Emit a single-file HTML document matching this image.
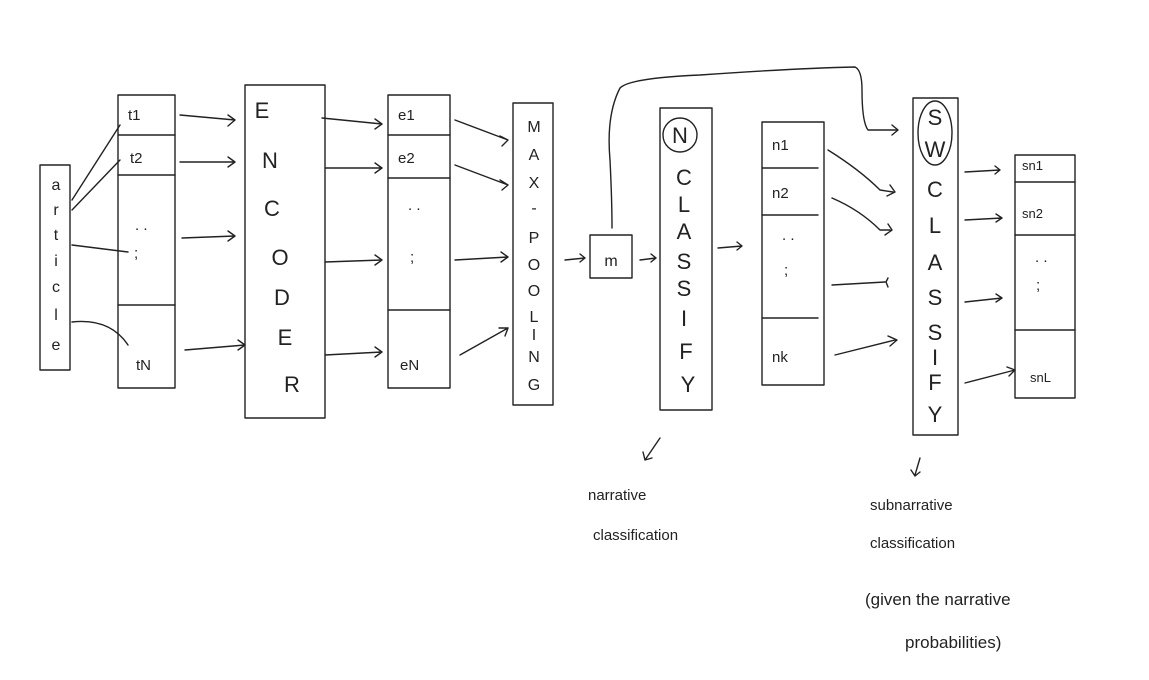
<!DOCTYPE html>
<html><head><meta charset="utf-8"><style>
html,body{margin:0;padding:0;background:#fff;}
svg{display:block}
text{font-family:"Liberation Sans",sans-serif;fill:#222;}
.l{stroke:#222;stroke-width:1.4;fill:none;stroke-linecap:round;stroke-linejoin:round}
.c{font-size:22px;text-anchor:middle}
.s{font-size:16px;text-anchor:middle}
.n{font-size:15px}
</style></head><body>
<svg width="1149" height="680" viewBox="0 0 1149 680" xmlns="http://www.w3.org/2000/svg">
<g class="l">
<rect x="40" y="165" width="30" height="205"/>
<rect x="118" y="95" width="57" height="293"/>
<line x1="118" y1="135" x2="175" y2="135"/><line x1="118" y1="175" x2="175" y2="175"/><line x1="118" y1="305" x2="175" y2="305"/>
<path d="M72 200 L120 125"/><path d="M72 210 L120 160"/><path d="M72 245 L128 252"/><path d="M72 322 Q110 318 128 345"/>
<rect x="245" y="85" width="80" height="333"/>
<rect x="388" y="95" width="62" height="293"/>
<line x1="388" y1="135" x2="450" y2="135"/><line x1="388" y1="178" x2="450" y2="178"/><line x1="388" y1="310" x2="450" y2="310"/>
<rect x="513" y="103" width="40" height="302"/>
<rect x="590" y="235" width="42" height="43"/>
<rect x="660" y="108" width="52" height="302"/>
<circle cx="680" cy="135" r="17"/>
<rect x="762" y="122" width="62" height="263"/>
<line x1="762" y1="168" x2="818" y2="168"/><line x1="762" y1="215" x2="818" y2="215"/><line x1="762" y1="318" x2="818" y2="318"/>
<rect x="913" y="98" width="45" height="337"/>
<ellipse cx="935" cy="133" rx="17" ry="32"/>
<rect x="1015" y="155" width="60" height="243"/>
<line x1="1015" y1="182" x2="1075" y2="182"/><line x1="1015" y1="235" x2="1075" y2="235"/><line x1="1015" y1="330" x2="1075" y2="330"/>
<path d="M180 115 L235 120 M228 115 L235 120 L228 126"/>
<path d="M180 162 L235 162 M228 157 L235 162 L228 167"/>
<path d="M182 238 L235 236 M228 231 L235 236 L228 241"/>
<path d="M185 350 L245 345 M238 340 L245 345 L238 350"/>
<path d="M322 118 L382 124 M375 119 L382 124 L375 129"/>
<path d="M325 168 L382 168 M375 163 L382 168 L375 173"/>
<path d="M325 262 L382 260 M375 255 L382 260 L375 265"/>
<path d="M325 355 L382 352 M375 347 L382 352 L375 357"/>
<path d="M455 120 L508 140 M500 136 L508 140 L502 146"/>
<path d="M455 165 L508 185 M500 180 L508 185 L502 190"/>
<path d="M455 260 L508 257 M501 252 L508 257 L501 262"/>
<path d="M460 355 L508 328 M499 328 L508 328 L505 336"/>
<path d="M565 260 L585 258 M580 254 L585 258 L580 262"/>
<path d="M640 260 L656 258 M651 254 L656 258 L651 262"/>
<path d="M718 248 L742 246 M737 242 L742 246 L737 250"/>
<path d="M612 228 Q612 200 610 160 Q606 115 620 88 Q630 78 700 75 Q800 68 855 67 Q862 70 862 90 Q862 122 868 130 L896 130 M892 125 L898 130 L892 135"/>
<path d="M828 150 Q860 170 880 190 L893 192 M890 185 L895 192 L887 196"/>
<path d="M832 198 Q860 210 880 230 L890 230 M888 224 L892 230 L885 235"/>
<path d="M832 285 L885 282 M888 278 L886 282 L888 287"/>
<path d="M835 355 L895 340 M888 336 L897 340 L890 346"/>
<path d="M965 172 L1000 170 M995 166 L1000 170 L995 174"/>
<path d="M965 220 L1002 218 M996 214 L1002 218 L996 222"/>
<path d="M965 302 L1002 298 M996 294 L1002 298 L996 302"/>
<path d="M965 383 L1015 370 M1007 367 L1015 370 L1009 376"/>
<path d="M660 438 L645 460 M643 452 L645 460 L652 458"/>
<path d="M920 458 L915 475 M911 470 L915 476 L920 472"/>
</g>
<g class="c">
<text x="56" y="190" class="s">a</text><text x="56" y="215" class="s">r</text><text x="56" y="240" class="s">t</text><text x="56" y="266" class="s">i</text><text x="56" y="292" class="s">c</text><text x="56" y="320" class="s">l</text><text x="56" y="350" class="s">e</text>
<text x="262" y="118">E</text><text x="270" y="168">N</text><text x="272" y="216">C</text><text x="280" y="265">O</text><text x="282" y="305">D</text><text x="285" y="345">E</text><text x="292" y="392">R</text>
<text x="534" y="132" class="s">M</text><text x="534" y="160" class="s">A</text><text x="534" y="188" class="s">X</text><text x="534" y="213" class="s">-</text><text x="534" y="243" class="s">P</text><text x="534" y="270" class="s">O</text><text x="534" y="296" class="s">O</text><text x="534" y="322" class="s">L</text><text x="534" y="340" class="s">I</text><text x="534" y="362" class="s">N</text><text x="534" y="390" class="s">G</text>
<text x="611" y="266" class="s">m</text>
<text x="680" y="143">N</text><text x="684" y="185">C</text><text x="684" y="212">L</text><text x="684" y="239">A</text><text x="684" y="269">S</text><text x="684" y="296">S</text><text x="684" y="326">I</text><text x="686" y="359">F</text><text x="688" y="392">Y</text>
<text x="935" y="125">S</text><text x="935" y="157">W</text><text x="935" y="197">C</text><text x="935" y="233">L</text><text x="935" y="270">A</text><text x="935" y="305">S</text><text x="935" y="340">S</text><text x="935" y="365">I</text><text x="935" y="390">F</text><text x="935" y="422">Y</text>
</g>
<g class="n">
<text x="128" y="120">t1</text><text x="130" y="163">t2</text><text x="135" y="230">. .</text><text x="134" y="258">;</text><text x="136" y="370">tN</text>
<text x="398" y="120">e1</text><text x="398" y="163">e2</text><text x="408" y="210">. .</text><text x="410" y="262">;</text><text x="400" y="370">eN</text>
<text x="772" y="150">n1</text><text x="772" y="198">n2</text><text x="782" y="240">. .</text><text x="784" y="275">;</text><text x="772" y="362">nk</text>
<text x="1022" y="170" style="font-size:13px">sn1</text><text x="1022" y="218" style="font-size:13px">sn2</text><text x="1035" y="262">. .</text><text x="1036" y="290">;</text><text x="1030" y="382" style="font-size:13px">snL</text>
<text x="588" y="500">narrative</text>
<text x="593" y="540">classification</text>
<text x="870" y="510">subnarrative</text>
<text x="870" y="548">classification</text>
<text x="865" y="605" style="font-size:17px">(given the narrative</text>
<text x="905" y="648" style="font-size:17px">probabilities)</text>
</g>
</svg>
</body></html>
